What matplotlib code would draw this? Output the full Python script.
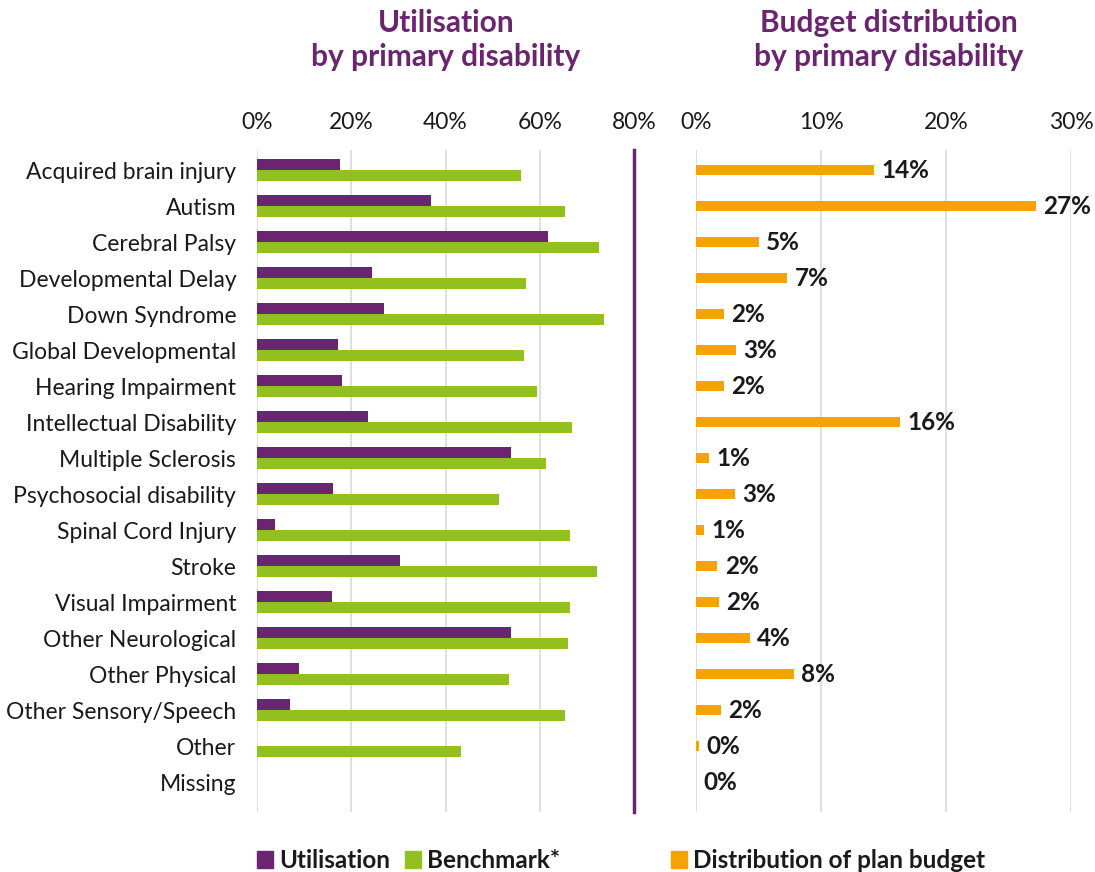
import numpy as np
import matplotlib.pyplot as plt
from matplotlib.patches import Rectangle

# data
categories = [
    "Acquired brain injury", "Autism", "Cerebral Palsy", "Developmental Delay",
    "Down Syndrome", "Global Developmental", "Hearing Impairment",
    "Intellectual Disability", "Multiple Sclerosis", "Psychosocial disability",
    "Spinal Cord Injury", "Stroke", "Visual Impairment", "Other Neurological",
    "Other Physical", "Other Sensory/Speech", "Other", "Missing",
]
utilisation = [17.7, 37.0, 61.7, 24.5, 27.0, 17.2, 18.1, 23.6, 54.0, 16.2,
               3.8, 30.4, 16.0, 53.8, 8.9, 7.0, 0.0, 0.0]
benchmark = [56.0, 65.3, 72.6, 57.0, 73.6, 56.6, 59.4, 66.8, 61.3, 51.3,
             66.4, 72.1, 66.4, 66.0, 53.4, 65.3, 43.2, 0.0]
budget = [14.2, 27.2, 5.0, 7.3, 2.2, 3.2, 2.2, 16.3, 1.0, 3.1,
          0.6, 1.7, 1.8, 4.3, 7.8, 2.0, 0.2, 0.0]

left_ticks = [0, 20, 40, 60, 80]
right_ticks = [0, 10, 20, 30]

PURPLE = "#6B2570"
GREEN = "#93C01F"
ORANGE = "#F5A300"
GRID = "#D9D9D9"
TEXT = "#1a1a1a"

plt.rcParams["font.family"] = ["Lato", "DejaVu Sans"]

W, H = 1095, 872
fig = plt.figure(figsize=(W / 100, H / 100), dpi=100)

def px_axes(x0, x1, y_top, y_bot):
    return fig.add_axes([x0 / W, (H - y_bot) / H, (x1 - x0) / W, (y_bot - y_top) / H])

y = np.arange(len(categories))
ylim = (17.83, -0.56)

# left panel: utilisation vs benchmark
ax1 = px_axes(257, 634, 150, 812)
h = 0.3
ax1.barh(y - h / 2, utilisation, height=h, color=PURPLE)
ax1.barh(y + h / 2, benchmark, height=h, color=GREEN)
ax1.set_xlim(0, 80)
ax1.set_ylim(*ylim)
ax1.set_xticks(left_ticks)
ax1.set_xticklabels([f"{t}%" for t in left_ticks])
ax1.set_yticks(y)
ax1.set_yticklabels(categories)
ax1.xaxis.tick_top()
ax1.tick_params(axis="both", length=0, labelsize=16.5, labelcolor=TEXT)
ax1.tick_params(axis="x", pad=12)
ax1.tick_params(axis="y", pad=15)
for t in left_ticks[:-1]:
    ax1.axvline(t, color=GRID, lw=1.2, zorder=0)
for s in ["top", "bottom", "left"]:
    ax1.spines[s].set_visible(False)
ax1.spines["right"].set_color(PURPLE)
ax1.spines["right"].set_linewidth(2.5)

# right panel: budget distribution
ax2 = px_axes(696, 1071, 150, 812)
ax2.barh(y, budget, height=0.27, color=ORANGE)
for yi, v in zip(y, budget):
    ax2.text(v + 0.6, yi, f"{v:.0f}%", va="center", ha="left",
             fontsize=17.5, fontweight="bold", color=TEXT)
ax2.set_xlim(0, 30)
ax2.set_ylim(*ylim)
ax2.set_xticks(right_ticks)
ax2.set_xticklabels([f"{t}%" for t in right_ticks])
ax2.set_yticks([])
ax2.xaxis.tick_top()
ax2.tick_params(axis="x", length=0, labelsize=16.5, labelcolor=TEXT, pad=12)
for t in right_ticks:
    ax2.axvline(t, color=GRID, lw=1.2, zorder=0)
for s in ax2.spines.values():
    s.set_visible(False)

# titles
fig.text(446 / W, 1 - 40 / H, "Utilisation\nby primary disability", ha="center",
         va="center", fontsize=21.5, fontweight="bold", color=PURPLE, linespacing=1.25)
fig.text(889 / W, 1 - 40 / H, "Budget distribution\nby primary disability", ha="center",
         va="center", fontsize=21.5, fontweight="bold", color=PURPLE, linespacing=1.25)

# legend
def legend_item(x, label, color):
    fig.patches.append(Rectangle((x / W, 1 - 868 / H), 16 / W, 17 / H,
                                 transform=fig.transFigure, color=color))
    fig.text((x + 22) / W, 1 - 860 / H, label, ha="left", va="center",
             fontsize=17.5, fontweight="bold", color=TEXT)

legend_item(257, "Utilisation", PURPLE)
legend_item(405, "Benchmark*", GREEN)
legend_item(671, "Distribution of plan budget", ORANGE)

fig.savefig("out.png", dpi=100)
